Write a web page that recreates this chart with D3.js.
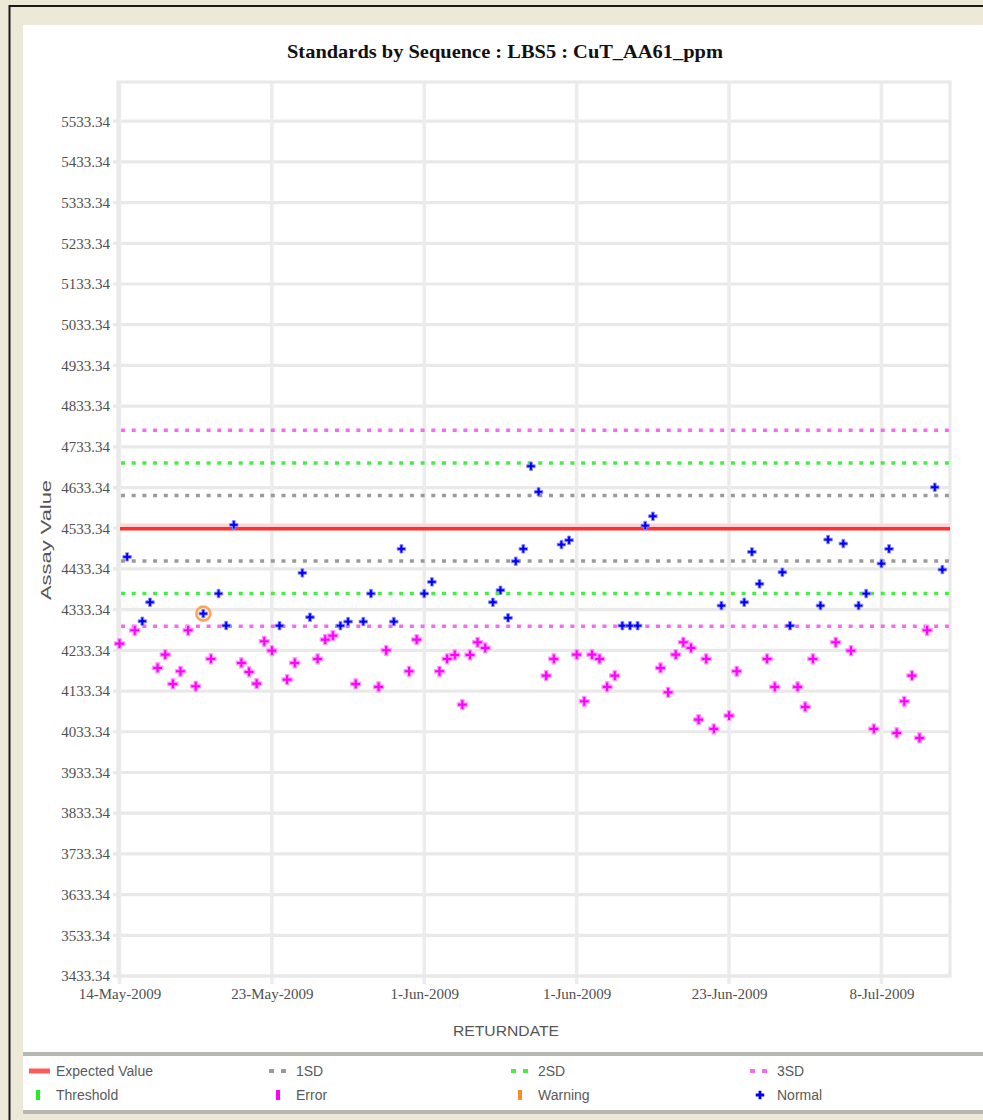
<!DOCTYPE html>
<html>
<head>
<meta charset="utf-8">
<script src="https://cdn.jsdelivr.net/npm/d3@7"></script>
<style>
  html, body { margin: 0; padding: 0; background: #ECE9D8; }
  svg { display: block; }
</style>
</head>
<body>
<svg id="chart" width="983" height="1120"></svg>
<script>
// ---- chart data ----
const chartTitle = "Standards by Sequence : LBS5 : CuT_AA61_ppm";
const xAxisTitle = "RETURNDATE";
const yAxisTitle = "Assay Value";

// Assay value of each standard, in run sequence order
const assayValues = [
  4250.0, 4463.0, 4282.7, 4304.8, 4351.5, 4190.3, 4223.0, 4151.0, 4182.0, 4282.7,
  4145.1, 4323.7, 4212.4, 4372.9, 4294.3, 4541.7, 4202.6, 4180.5, 4151.7, 4255.7,
  4232.8, 4294.0, 4161.6, 4202.6, 4423.7, 4314.6, 4212.4, 4259.8, 4269.7, 4294.0,
  4304.1, 4151.0, 4304.1, 4372.9, 4143.6, 4233.5, 4304.1, 4482.7, 4182.0, 4259.8,
  4372.9, 4401.6, 4182.0, 4212.4, 4222.3, 4100.1, 4222.3, 4253.2, 4239.4, 4351.5,
  4381.0, 4313.2, 4452.2, 4482.7, 4685.7, 4622.8, 4171.4, 4212.4, 4493.3, 4503.9,
  4223.0, 4108.2, 4223.0, 4212.4, 4143.6, 4171.4, 4294.0, 4294.0, 4294.0, 4539.9,
  4562.8, 4190.3, 4130.4, 4223.0, 4253.2, 4239.4, 4063.3, 4212.4, 4040.4, 4343.4,
  4073.1, 4182.0, 4351.5, 4475.3, 4396.7, 4212.4, 4143.6, 4425.2, 4294.0, 4143.6,
  4094.5, 4212.4, 4343.4, 4505.6, 4253.2, 4495.7, 4232.8, 4343.4, 4372.9, 4040.4,
  4446.6, 4482.7, 4030.6, 4108.2, 4171.4, 4018.3, 4282.7, 4634.0, 4431.8
];

// Status flag of each standard: N = Normal, E = Error, W = Warning
const statuses = [
  "E","N","E","N","N","E","E","E","E","E",
  "E","W","E","N","N","N","E","E","E","E",
  "E","N","E","E","N","N","E","E","E","N",
  "N","E","N","N","E","E","N","N","E","E",
  "N","N","E","E","E","E","E","E","E","N",
  "N","N","N","N","N","N","E","E","N","N",
  "E","E","E","E","E","E","N","N","N","N",
  "N","E","E","E","E","E","E","E","E","N",
  "E","E","N","N","N","E","E","N","N","E",
  "E","E","N","N","E","N","E","N","N","E",
  "N","N","E","E","E","E","E","N","N"
];

const expectedValue = 4533.34;
const stdDev = 80.3;

const yTickValues = [
  3433.34, 3533.34, 3633.34, 3733.34, 3833.34, 3933.34, 4033.34, 4133.34,
  4233.34, 4333.34, 4433.34, 4533.34, 4633.34, 4733.34, 4833.34, 4933.34,
  5033.34, 5133.34, 5233.34, 5333.34, 5433.34, 5533.34
];
const xTickPositions = [0, 20, 40, 60, 80, 100];
const xTickLabels = ["14-May-2009", "23-May-2009", "1-Jun-2009", "1-Jun-2009", "23-Jun-2009", "8-Jul-2009"];

const legendNames = ["Expected Value", "1SD", "2SD", "3SD", "Threshold", "Error", "Warning", "Normal"];

// ---- styling ----
const colors = {
  expected: "#ff3030", expectedHalo: "#ffd6d6",
  sd1: "#9a9a9a", sd2: "#44ee44", sd3: "#f46af4",
  threshold: "#22ee22", error: "#ff00ff", warning: "#ff8a1e", normal: "#0000ff"
};

const frame = { left: 118, right: 950, top: 82, bottom: 976 };

const svg = d3.select("#chart");

// window chrome: beige backdrop, dark edges, white panels
svg.append("rect").attr("width", 983).attr("height", 1120).attr("fill", "#ECE9D8");
svg.append("line").attr("x1", 9).attr("x2", 983).attr("y1", 6).attr("y2", 6)
  .attr("stroke", "#1a1a1a").attr("stroke-width", 2);
svg.append("line").attr("x1", 9.5).attr("x2", 9.5).attr("y1", 5).attr("y2", 1120)
  .attr("stroke", "#1a1a1a").attr("stroke-width", 2);
svg.append("rect").attr("x", 23).attr("y", 25).attr("width", 960).attr("height", 1027)
  .attr("fill", "#ffffff");
svg.append("rect").attr("x", 23).attr("y", 1052).attr("width", 960).attr("height", 4)
  .attr("fill", "#b8b8b3");
svg.append("rect").attr("x", 23).attr("y", 1056).attr("width", 960).attr("height", 54)
  .attr("fill", "#ffffff");
svg.append("rect").attr("x", 23).attr("y", 1110).attr("width", 960).attr("height", 4)
  .attr("fill", "#b8b8b3");

// ---- scales ----
const x = d3.scaleLinear().domain([0, 109]).range([119.5, 950]);
const y = d3.scaleLinear().domain([3433.34, 5533.34]).range([976, 121.2]);

// ---- grid ----
const grid = svg.append("g");
grid.selectAll("line.h").data(yTickValues).join("line")
  .attr("class", "h")
  .attr("x1", 113).attr("x2", frame.right)
  .attr("y1", d => y(d)).attr("y2", d => y(d))
  .attr("stroke", "#e9e9e9").attr("stroke-width", 3.2);
grid.selectAll("line.v").data(xTickPositions).join("line")
  .attr("class", "v")
  .attr("x1", d => x(d)).attr("x2", d => x(d))
  .attr("y1", frame.top).attr("y2", 984)
  .attr("stroke", "#ececec").attr("stroke-width", 3.5);
grid.append("rect")
  .attr("x", frame.left).attr("y", frame.top)
  .attr("width", frame.right - frame.left).attr("height", frame.bottom - frame.top)
  .attr("fill", "none").attr("stroke", "#e9e9e9").attr("stroke-width", 3.2);

// ---- axes ----
const yAxis = svg.append("g").attr("transform", "translate(110,0)")
  .call(d3.axisLeft(y).tickValues(yTickValues).tickFormat(d => d.toFixed(2)).tickSize(0).tickPadding(0));
yAxis.select(".domain").remove();
yAxis.selectAll("text")
  .attr("font-family", "'Liberation Serif', serif").attr("font-size", 15).attr("fill", "#505050");

const xAxis = svg.append("g").attr("transform", `translate(0,${frame.bottom})`)
  .call(d3.axisBottom(x).tickValues(xTickPositions).tickFormat((d, i) => xTickLabels[i]).tickSize(0).tickPadding(12));
xAxis.select(".domain").remove();
xAxis.selectAll("text")
  .attr("font-family", "'Liberation Serif', serif").attr("font-size", 15).attr("fill", "#505050");

// ---- titles ----
svg.append("text")
  .attr("x", 505).attr("y", 58)
  .attr("text-anchor", "middle")
  .attr("font-family", "'Liberation Serif', serif").attr("font-weight", "bold").attr("font-size", 19)
  .attr("textLength", 436).attr("lengthAdjust", "spacingAndGlyphs")
  .attr("fill", "#111")
  .text(chartTitle);

svg.append("text")
  .attr("transform", "translate(46,540) rotate(-90)")
  .attr("text-anchor", "middle").attr("dy", "0.35em")
  .attr("font-family", "'Liberation Sans', sans-serif").attr("font-size", 15)
  .attr("textLength", 120).attr("lengthAdjust", "spacingAndGlyphs")
  .attr("fill", "#555")
  .text(yAxisTitle);

svg.append("text")
  .attr("x", 506).attr("y", 1036)
  .attr("text-anchor", "middle")
  .attr("font-family", "'Liberation Sans', sans-serif").attr("font-size", 15)
  .attr("textLength", 106).attr("lengthAdjust", "spacingAndGlyphs")
  .attr("fill", "#555")
  .text(xAxisTitle);

// ---- control limits ----
const limits = [
  { v: expectedValue + 3 * stdDev, c: colors.sd3 },
  { v: expectedValue + 2 * stdDev, c: colors.sd2 },
  { v: expectedValue + 1 * stdDev, c: colors.sd1 },
  { v: expectedValue - 1 * stdDev, c: colors.sd1 },
  { v: expectedValue - 2 * stdDev, c: colors.sd2 },
  { v: expectedValue - 3 * stdDev, c: colors.sd3 }
];
const limitG = svg.append("g");
limitG.selectAll("line").data(limits).join("line")
  .attr("x1", 121).attr("x2", frame.right)
  .attr("y1", d => y(d.v)).attr("y2", d => y(d.v))
  .attr("stroke", d => d.c).attr("stroke-width", 3.5)
  .attr("stroke-dasharray", "4 6.7");

// expected value: solid red line with soft halo
limitG.append("line")
  .attr("x1", 120).attr("x2", frame.right)
  .attr("y1", y(expectedValue) - 3).attr("y2", y(expectedValue) - 3)
  .attr("stroke", colors.expectedHalo).attr("stroke-width", 3.5);
limitG.append("line")
  .attr("x1", 120).attr("x2", frame.right)
  .attr("y1", y(expectedValue) + 0.5).attr("y2", y(expectedValue) + 0.5)
  .attr("stroke", colors.expected).attr("stroke-width", 3.5);

// ---- points ----
const points = assayValues.map((v, i) => ({ i, v, s: statuses[i] }));
const ptG = svg.append("g");
const errorSym = d3.symbol().type(d3.symbolCross).size(56);
const normalSym = d3.symbol().type(d3.symbolCross).size(40);

// warning ring drawn beneath its marker
ptG.selectAll("circle.warn").data(points.filter(d => d.s === "W")).join("circle")
  .attr("class", "warn")
  .attr("cx", d => x(d.i)).attr("cy", d => y(d.v)).attr("r", 7)
  .attr("fill", "#fff3e6")
  .attr("stroke", colors.warning).attr("stroke-opacity", 0.75).attr("stroke-width", 2.6);

ptG.selectAll("path.err").data(points.filter(d => d.s === "E")).join("path")
  .attr("class", "err")
  .attr("transform", d => `translate(${x(d.i)},${y(d.v)})`)
  .attr("d", errorSym)
  .attr("fill", colors.error)
  .attr("stroke", "#ff99ff").attr("stroke-width", 1.2);

ptG.selectAll("path.norm").data(points.filter(d => d.s !== "E")).join("path")
  .attr("class", "norm")
  .attr("transform", d => `translate(${x(d.i)},${y(d.v)})`)
  .attr("d", normalSym)
  .attr("fill", colors.normal)
  .attr("stroke", "#9090ff").attr("stroke-width", 0.9);

// ---- legend ----
const legendCols = [29, 269, 511, 750];
const legendRows = [1071, 1095];
const legendSwatches = ["expected", "sd1", "sd2", "sd3", "threshold", "error", "warning", "normal"];
const legend = svg.append("g");
legendNames.forEach((name, k) => {
  const col = legendCols[k % 4], row = legendRows[Math.floor(k / 4)];
  const key = legendSwatches[k];
  const g = legend.append("g");
  if (key === "expected") {
    g.append("line").attr("x1", col).attr("x2", col + 21).attr("y1", row).attr("y2", row)
      .attr("stroke", "#ff5a5a").attr("stroke-width", 5);
  } else if (key.startsWith("sd")) {
    g.append("line").attr("x1", col).attr("x2", col + 19).attr("y1", row).attr("y2", row)
      .attr("stroke", colors[key]).attr("stroke-width", 4).attr("stroke-dasharray", "5 7");
  } else if (key === "normal") {
    g.append("path").attr("transform", `translate(${col + 10},${row})`)
      .attr("d", d3.symbol().type(d3.symbolCross).size(40))
      .attr("fill", colors.normal);
  } else {
    g.append("rect").attr("x", col + 7).attr("y", row - 5).attr("width", 4).attr("height", 10)
      .attr("fill", colors[key]);
  }
  g.append("text")
    .attr("x", col + 27).attr("y", row + 5)
    .attr("font-family", "'Liberation Sans', sans-serif").attr("font-size", 14)
    .attr("fill", "#5a5a5a")
    .text(name);
});
</script>
</body>
</html>
